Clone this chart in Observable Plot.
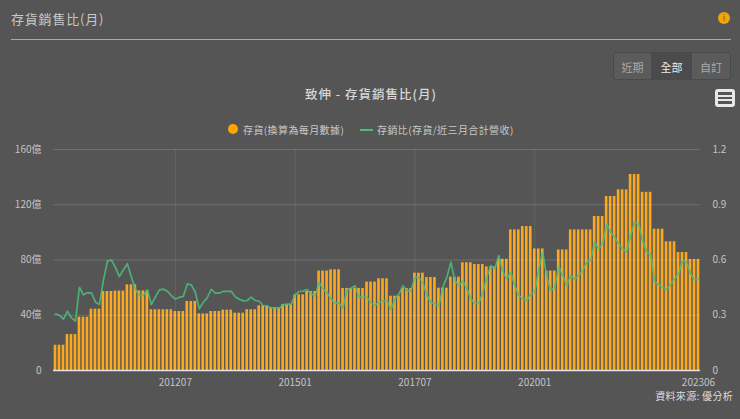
<!DOCTYPE html>
<html><head><meta charset="utf-8">
<script src="https://cdn.jsdelivr.net/npm/d3@7"></script>
<script src="https://cdn.jsdelivr.net/npm/@observablehq/plot@0.6"></script>
<style>
html,body{margin:0;padding:0;background:#555;}
#page{position:relative;width:740px;height:419px;overflow:hidden;background:#555;font-family:"Noto Sans CJK TC","Noto Sans",sans-serif;color:#ccc;}
#page div,#page span{position:absolute;white-space:nowrap;}
#chart{left:0;top:140px;}
#chart svg{display:block;background:transparent;}
.btn{top:52px;height:28px;line-height:28px;text-align:center;font-size:11px;color:#aaa;background:#5b5b5b;border:1px solid #4a4a4a;box-sizing:border-box;}
.leg{top:122px;font-size:10px;letter-spacing:.4px;line-height:15px;color:#c8c8c8;}
</style></head><body>
<div id="page">
  <div style="left:11px;top:9px;font-size:13px;line-height:20px;letter-spacing:.8px;color:#c8c8c8">存貨銷售比(月)</div>
  <div style="left:11px;top:39px;width:720px;height:1px;background:#aaa"></div>
  <div style="left:718px;top:12px;width:12px;height:12px;border-radius:50%;background:#f5a30a;color:#8a5a00;font-size:9px;line-height:12px;text-align:center">i</div>
  <div class="btn" style="left:613px;width:39px;border-radius:3px 0 0 3px">近期</div>
  <div class="btn" style="left:652px;width:39px;background:#4b4b4b;color:#eee">全部</div>
  <div class="btn" style="left:691px;width:40px;border-radius:0 3px 3px 0">自訂</div>
  <div style="left:305px;top:84px;font-size:12.5px;line-height:19px;font-weight:500;letter-spacing:1px;color:#d8d8d8">致伸 - 存貨銷售比(月)</div>
  <div style="left:715px;top:89px;width:20px;height:18px;border-radius:3px;background:#e8e8e8"></div>
  <div style="left:718px;top:92px;width:14px;height:2.5px;background:#555"></div>
  <div style="left:718px;top:96.7px;width:14px;height:2.5px;background:#555"></div>
  <div style="left:718px;top:101.4px;width:14px;height:2.5px;background:#555"></div>
  <div style="left:228px;top:124px;width:10px;height:10px;border-radius:50%;background:#ffa500"></div>
  <div class="leg" style="left:243px">存貨(換算為每月數據)</div>
  <div style="left:360px;top:129px;width:13px;height:2px;background:#4dbb7c"></div>
  <div class="leg" style="left:377px">存銷比(存貨/近三月合計營收)</div>
  <div id="chart"></div>
  <div style="right:7px;top:390px;font-size:10px;line-height:12px;letter-spacing:.3px;color:#ddd">資料來源: 優分析</div>
</div>
<script>
const years = d3.range(2010, 2024);
const months = years.flatMap(y => d3.range(1, 13).map(m => `${y}${String(m).padStart(2, "0")}`)).filter(m => m <= "202306");

// 存貨 (億), one reported value per quarter
const inventoryQuarterly = [
  18.3, 26, 38.6, 44.4,
  57.2, 57.5, 62, 57.6,
  44, 44, 42.7, 50,
  41, 42.7, 43.7, 41.5,
  44, 46.8, 45.4, 47.8,
  54.8, 57.2, 72, 72.9,
  59.4, 59.4, 64, 66.4,
  53.8, 59.4, 70.5, 67.3,
  59.6, 67.6, 78, 76.7,
  75, 80.5, 101.8, 104.2,
  88, 72, 87.3, 101.8,
  101.8, 111.5, 126, 130.8,
  141.9, 129, 102.3, 93.2,
  85.4, 80.4
];
const inventory = inventoryQuarterly.flatMap(v => [v, v, v]);

// 存銷比, monthly
const ratio = [
  .308,.299,.279,.322,.286,.268,.452,.411,.422,.422,.371,.358,
  .489,.594,.6,.56,.51,.547,.58,.507,.443,.407,.407,.438,
  .358,.398,.438,.442,.431,.407,.387,.398,.402,.47,.465,.425,
  .335,.37,.395,.44,.42,.42,.43,.43,.43,.40,.387,.378,
  .38,.398,.38,.376,.353,.349,.34,.34,.338,.358,.36,.36,
  .411,.429,.431,.44,.416,.404,.478,.443,.422,.389,.366,.366,
  .34,.438,.447,.46,.398,.398,.398,.366,.353,.371,.376,.38,
  .331,.389,.416,.46,.434,.431,.507,.503,.478,.407,.369,.362,
  .353,.4525,.507,.588,.489,.4616,.485,.443,.389,.362,.366,.425,
  .507,.57,.552,.624,.534,.498,.534,.46,.407,.389,.38,.416,
  .425,.55,.643,.507,.434,.4525,.561,.516,.462,.516,.498,.516,
  .543,.588,.597,.697,.661,.688,.796,.751,.724,.688,.661,.643,
  .735,.805,.796,.706,.643,.634,.48,.467,.4525,.44,.467,.498,
  .525,.597,.588,.525,.492,.498
];

const yTicks = [0, 40, 80, 120, 160];
const xTicks = ["201207", "201501", "201707", "202001", "202306"];
const ratioMax = 1.2, yMax = 160;
const rows = months.map((m, i) => ({m, inv: inventory[i], r: ratio[i]}));
const axisColor = "#c4c4c4";

const plot = Plot.plot({
  width: 740, height: 265,
  marginLeft: 53, marginRight: 40, marginTop: 9, marginBottom: 35,
  style: {background: "transparent", fontFamily: '"Noto Sans CJK TC","Noto Sans",sans-serif', fontSize: "10px"},
  x: {type: "band", domain: months, paddingInner: 0.34, paddingOuter: 0.17, round: false, label: null},
  y: {domain: [0, yMax], label: null},
  marks: [
    Plot.barY(rows, {x: "m", y: "inv", fill: "#fba81e"}),
    Plot.ruleY(yTicks.slice(1), {stroke: "#fff", strokeOpacity: 0.16}),
    Plot.ruleX(xTicks.slice(0, 4), {x: d => d, stroke: "#fff", strokeOpacity: 0.09}),
    Plot.ruleY([0], {stroke: "#e4e4e4", strokeWidth: 1.5}),
    Plot.line(rows, {x: "m", y: d => d.r * yMax / ratioMax, stroke: "#4dbb7c", strokeWidth: 1.7, strokeOpacity: 0.88, curve: "linear"}),
    Plot.axisY({ticks: yTicks, tickSize: 0, tickPadding: 12, label: null, fill: axisColor,
      tickFormat: d => d === 0 ? "0" : d + "億"}),
    Plot.axisY({anchor: "right", ticks: yTicks, tickSize: 0, tickPadding: 12, label: null, fill: axisColor,
      tickFormat: d => String(+(d * ratioMax / yMax).toFixed(1))}),
    Plot.axisX({ticks: xTicks, tickSize: 0, tickPadding: 8, label: null, fill: axisColor})
  ]
});
document.getElementById("chart").appendChild(plot);
</script>
</body></html>
